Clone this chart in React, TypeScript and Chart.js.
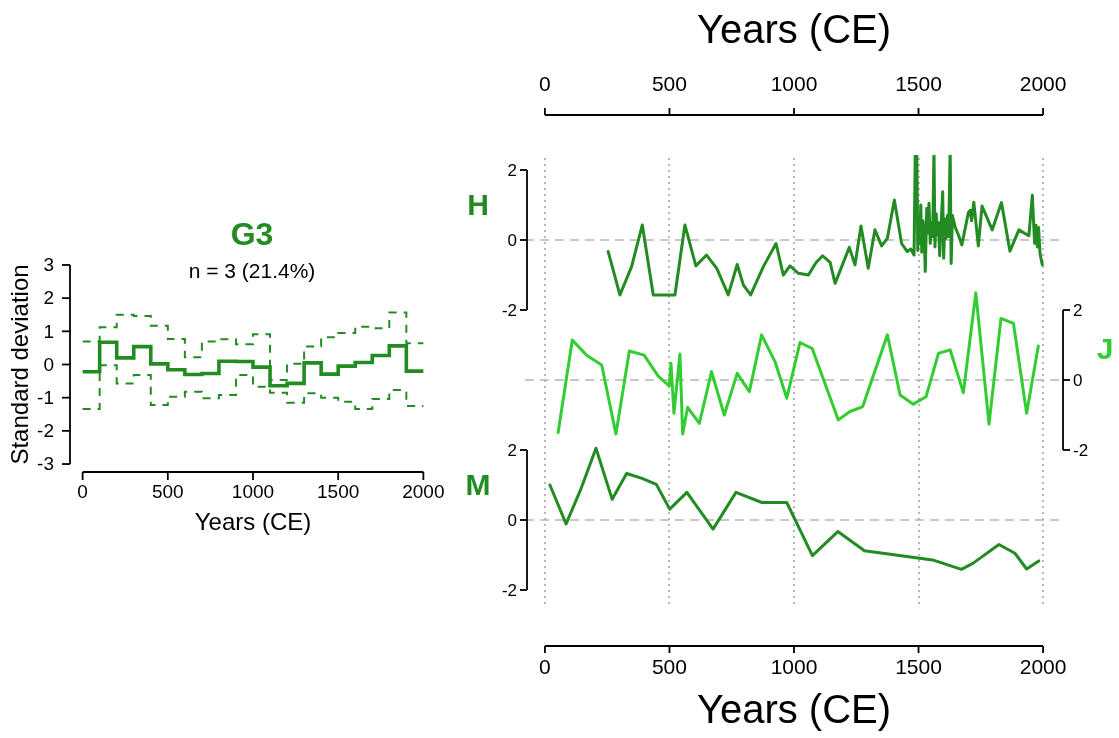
import React, { useEffect, useRef } from "react";
import { Chart, registerables } from "chart.js";

Chart.register(...registerables);

const W = 1119;
const H = 738;
const FONT = '"Liberation Sans", Arial, Helvetica, sans-serif';
const GREEN = "#228B22";
const LIME = "#32CD32";

// ---- G3 composite (100-year bins, standard deviation units) ----
const binStarts = [0, 100, 200, 300, 400, 500, 600, 700, 800, 900, 1000, 1100, 1200, 1300, 1400, 1500, 1600, 1700, 1800, 1900];
const g3Mean = [-0.22, 0.67, 0.2, 0.54, 0.02, -0.16, -0.3, -0.27, 0.1, 0.09, -0.08, -0.64, -0.57, 0.05, -0.29, -0.05, 0.06, 0.27, 0.56, -0.2];
const g3Upper = [0.69, 1.12, 1.5, 1.46, 1.17, 0.77, 0.22, 0.69, 0.76, 0.61, 0.91, -0.47, 0.02, 0.54, 0.82, 0.95, 1.14, 1.09, 1.57, 0.64];
const g3Lower = [-1.34, -0.02, -0.57, -0.32, -1.22, -0.97, -0.82, -1.02, -0.92, -0.32, -0.67, -0.85, -1.15, -0.87, -1.0, -1.12, -1.34, -1.04, -0.77, -1.25];
const binEnd = 2000;

// ---- Record H ----
const hYears = [254, 301, 348, 391, 435, 522, 562, 606, 649, 690, 736, 772, 797, 826, 877, 928, 957, 984, 1017, 1058, 1088, 1115, 1145, 1165, 1222, 1245, 1269, 1298, 1325, 1352, 1375, 1403, 1432, 1455, 1469, 1482, 1487, 1493, 1497, 1501, 1505, 1509, 1513, 1518, 1523, 1527, 1533, 1537, 1542, 1547, 1552, 1557, 1562, 1566, 1571, 1575, 1580, 1585, 1590, 1597, 1601, 1606, 1611, 1616, 1621, 1627, 1631, 1636, 1648, 1660, 1674, 1700, 1707, 1713, 1722, 1740, 1755, 1796, 1833, 1867, 1903, 1943, 1957, 1966, 1972, 1977, 1982, 1988, 1997];
const hValues = [-0.33, -1.57, -0.76, 0.43, -1.57, -1.57, 0.43, -0.74, -0.43, -0.81, -1.57, -0.7, -1.29, -1.57, -0.76, -0.1, -1.0, -0.74, -0.95, -1.0, -0.65, -0.45, -0.64, -1.24, -0.21, -0.71, 0.4, -0.81, 0.29, -0.17, 0.05, 1.14, -0.1, -0.33, -0.26, -0.43, 2.6, 2.6, -0.3, 0.6, -0.1, 1.0, -0.35, 0.55, 0.1, -0.9, 0.9, 0.2, 1.05, -0.1, 0.5, 0.1, 2.6, -0.2, 0.75, 0.15, 0.5, -0.45, 0.35, 1.38, -0.52, 0.6, 0.05, 0.7, 0.1, 2.6, -0.67, 0.7, 0.35, 0.15, -0.14, 0.78, 0.85, 0.55, 1.08, -0.17, 0.97, 0.29, 1.07, -0.32, 0.29, 0.12, 1.28, -0.1, 0.42, -0.2, 0.36, -0.4, -0.71];

// ---- Record J ----
const jYears = [53, 110, 167, 228, 285, 339, 398, 455, 499, 506, 518, 542, 553, 573, 620, 669, 720, 772, 821, 870, 924, 971, 1024, 1073, 1178, 1225, 1276, 1375, 1426, 1479, 1530, 1580, 1627, 1680, 1730, 1783, 1831, 1881, 1934, 1981];
const jValues = [-1.5, 1.14, 0.71, 0.43, -1.54, 0.83, 0.71, 0.11, -0.17, 0.48, -0.95, 0.74, -1.54, -0.78, -1.24, 0.24, -1.0, 0.19, -0.33, 1.29, 0.52, -0.52, 1.07, 0.9, -1.14, -0.9, -0.76, 1.29, -0.43, -0.69, -0.48, 0.76, 0.86, -0.36, 2.49, -1.26, 1.76, 1.62, -0.95, 0.97];

// ---- Record M ----
const mYears = [20, 85, 143, 205, 270, 328, 390, 447, 501, 570, 675, 767, 871, 971, 1074, 1176, 1283, 1556, 1672, 1718, 1823, 1887, 1934, 1983];
const mValues = [1.0, -0.11, 0.86, 2.05, 0.59, 1.33, 1.19, 1.02, 0.31, 0.79, -0.26, 0.79, 0.5, 0.5, -1.02, -0.33, -0.88, -1.14, -1.41, -1.24, -0.7, -0.95, -1.4, -1.17];

// ---- Axis ticks and labels ----
const yearTicks = [0, 500, 1000, 1500, 2000];
const sdTicks = [-3, -2, -1, 0, 1, 2, 3];
const recordTicks = [-2, 0, 2];
const yearTitle = "Years (CE)";
const sdTitle = "Standard deviation";
const groupName = "G3";
const groupCount = "n = 3 (21.4%)";
const recordNames = ["H", "J", "M"];

const toPoints = (xs: number[], ys: number[]) => xs.map((x, i) => ({ x, y: ys[i] }));
const toSteps = (ys: number[]) =>
  binStarts.map((x, i) => ({ x, y: ys[i] })).concat([{ x: binEnd, y: ys[ys.length - 1] }]);

function seg(ctx: CanvasRenderingContext2D, x1: number, y1: number, x2: number, y2: number) {
  ctx.beginPath();
  ctx.moveTo(x1, y1);
  ctx.lineTo(x2, y2);
  ctx.stroke();
}

const leftDecor = {
  id: "leftDecor",
  afterDraw(chart: any) {
    const { ctx, chartArea: a, scales } = chart;
    const xs = scales.x;
    const ys = scales.y;
    ctx.save();
    ctx.strokeStyle = "#000";
    ctx.fillStyle = "#000";
    ctx.lineWidth = 1.8;
    ctx.setLineDash([]);
    // y axis
    const ax = a.left + 1;
    seg(ctx, ax, ys.getPixelForValue(sdTicks[0]), ax, ys.getPixelForValue(sdTicks[sdTicks.length - 1]));
    ctx.font = `19px ${FONT}`;
    ctx.textAlign = "right";
    ctx.textBaseline = "middle";
    for (const t of sdTicks) {
      const py = ys.getPixelForValue(t);
      seg(ctx, ax - 8, py, ax, py);
      ctx.fillText(String(t), ax - 16, py + 1);
    }
    // x axis
    const ay = a.bottom;
    seg(ctx, xs.getPixelForValue(yearTicks[0]), ay, xs.getPixelForValue(yearTicks[yearTicks.length - 1]), ay);
    ctx.textAlign = "center";
    for (const t of yearTicks) {
      const px = xs.getPixelForValue(t);
      seg(ctx, px, ay, px, ay + 8);
      ctx.fillText(String(t), px, ay + 21);
    }
    const cx = (xs.getPixelForValue(0) + xs.getPixelForValue(2000)) / 2;
    ctx.font = `24px ${FONT}`;
    ctx.fillText(yearTitle, cx, ay + 51);
    ctx.save();
    ctx.translate(21, ys.getPixelForValue(0));
    ctx.rotate(-Math.PI / 2);
    ctx.fillText(sdTitle, 0, 0);
    ctx.restore();
    // group title
    ctx.font = `21px ${FONT}`;
    ctx.fillText(groupCount, cx - 1, a.top + 15);
    ctx.font = `bold 32px ${FONT}`;
    ctx.fillStyle = GREEN;
    ctx.fillText(groupName, cx - 1, a.top - 21);
    ctx.restore();
  },
};

const rightDecor = {
  id: "rightDecor",
  beforeDatasetsDraw(chart: any) {
    const { ctx, chartArea: a, scales } = chart;
    ctx.save();
    ctx.strokeStyle = "#a6a6a6";
    ctx.lineWidth = 1.6;
    ctx.setLineDash([2, 4]);
    for (const t of yearTicks) {
      const px = Math.round(scales.x.getPixelForValue(t));
      seg(ctx, px, a.top + 3, px, a.bottom);
    }
    ctx.strokeStyle = "#b5b5b5";
    ctx.lineWidth = 1.6;
    ctx.setLineDash([9, 6]);
    for (const id of ["yH", "yJ", "yM"]) {
      const py = scales[id].getPixelForValue(0);
      seg(ctx, a.left, py, id === "yJ" ? a.right + 3 : a.right, py);
    }
    ctx.restore();
  },
  afterDraw(chart: any) {
    const { ctx, chartArea: a, scales } = chart;
    const xs = scales.x;
    ctx.save();
    ctx.strokeStyle = "#000";
    ctx.fillStyle = "#000";
    ctx.lineWidth = 1.8;
    ctx.setLineDash([]);
    ctx.textBaseline = "middle";

    // bracket axes for each record
    const bracket = (id: string, x: number, dir: number) => {
      const s = scales[id];
      seg(ctx, x, s.getPixelForValue(recordTicks[0]), x, s.getPixelForValue(recordTicks[recordTicks.length - 1]));
      ctx.font = `17px ${FONT}`;
      ctx.textAlign = dir < 0 ? "right" : "left";
      for (const t of recordTicks) {
        const py = s.getPixelForValue(t);
        seg(ctx, x, py, x + dir * 7, py);
        ctx.fillText(String(t), x + dir * 10, py + 1);
      }
    };
    bracket("yH", a.left + 2, -1);
    bracket("yJ", a.right + 3, 1);
    bracket("yM", a.left + 2, -1);

    // record letters
    ctx.font = `bold 30px ${FONT}`;
    ctx.textAlign = "center";
    ctx.fillStyle = GREEN;
    ctx.fillText(recordNames[0], a.left - 47, scales.yH.getPixelForValue(0.95));
    ctx.fillStyle = LIME;
    ctx.fillText(recordNames[1], a.right + 45, scales.yJ.getPixelForValue(0.85));
    ctx.fillStyle = GREEN;
    ctx.fillText(recordNames[2], a.left - 47, scales.yM.getPixelForValue(0.95));

    // top and bottom year axes
    ctx.fillStyle = "#000";
    const x0 = xs.getPixelForValue(yearTicks[0]);
    const x1 = xs.getPixelForValue(yearTicks[yearTicks.length - 1]);
    const cx = (x0 + x1) / 2;
    const topY = a.top - 40;
    const botY = a.bottom + 39;
    seg(ctx, x0, topY, x1, topY);
    seg(ctx, x0, botY, x1, botY);
    ctx.font = `21px ${FONT}`;
    for (const t of yearTicks) {
      const px = xs.getPixelForValue(t);
      seg(ctx, px, topY - 7, px, topY);
      seg(ctx, px, botY, px, botY + 7);
      ctx.fillText(String(t), px, topY - 30);
      ctx.fillText(String(t), px, botY + 22);
    }
    ctx.font = `40px ${FONT}`;
    ctx.fillText(yearTitle, cx, topY - 83);
    ctx.fillText(yearTitle, cx, botY + 66);
    ctx.restore();
  },
};

export default function App() {
  const leftRef = useRef<HTMLCanvasElement>(null);
  const rightRef = useRef<HTMLCanvasElement>(null);

  useEffect(() => {
    // horizontal run across each bin, then the jump to the next bin
    const stepLine = { stepped: "before", pointRadius: 0, borderColor: GREEN, borderJoinStyle: "miter" };
    const left = new Chart(leftRef.current as HTMLCanvasElement, {
      type: "line",
      data: {
        datasets: [
          { data: toSteps(g3Upper), ...stepLine, borderWidth: 2, borderDash: [8, 7] },
          { data: toSteps(g3Lower), ...stepLine, borderWidth: 2, borderDash: [8, 7] },
          { data: toSteps(g3Mean), ...stepLine, borderWidth: 3.6 },
        ],
      },
      options: {
        responsive: false,
        animation: false,
        devicePixelRatio: 1,
        events: [],
        layout: { padding: { left: 69, right: W - 437, top: 257, bottom: H - 472 } },
        plugins: { legend: { display: false }, tooltip: { enabled: false } },
        scales: {
          x: { type: "linear", display: false, min: -80, max: 2080 },
          y: { type: "linear", display: false, min: -3.24, max: 3.24 },
        },
      },
      plugins: [leftDecor],
    } as any);

    const pxPerUnit = 35;
    const top = 155;
    const bottom = 607;
    const span = (bottom - top) / pxPerUnit;
    const range = (zeroPx: number) => {
      const max = (zeroPx - top) / pxPerUnit;
      return { min: max - span, max };
    };
    const line = (color: string) => ({
      borderColor: color,
      borderWidth: 3,
      pointRadius: 0,
      tension: 0,
      borderJoinStyle: "round",
      borderCapStyle: "round",
    });

    const right = new Chart(rightRef.current as HTMLCanvasElement, {
      type: "line",
      data: {
        datasets: [
          { data: toPoints(mYears, mValues), yAxisID: "yM", ...line(GREEN) },
          { data: toPoints(jYears, jValues), yAxisID: "yJ", ...line(LIME) },
          { data: toPoints(hYears, hValues), yAxisID: "yH", ...line(GREEN) },
        ],
      },
      options: {
        responsive: false,
        animation: false,
        devicePixelRatio: 1,
        events: [],
        layout: { padding: { left: 525, right: W - 1060, top, bottom: H - bottom } },
        plugins: { legend: { display: false }, tooltip: { enabled: false } },
        scales: {
          x: { type: "linear", display: false, min: -80, max: 2068 },
          yH: { type: "linear", display: false, ...range(240) },
          yJ: { type: "linear", display: false, ...range(380) },
          yM: { type: "linear", display: false, ...range(520) },
        },
      },
      plugins: [rightDecor],
    } as any);

    return () => {
      left.destroy();
      right.destroy();
    };
  }, []);

  const canvasStyle: React.CSSProperties = { position: "absolute", left: 0, top: 0, width: W, height: H };
  return (
    <div style={{ position: "fixed", left: 0, top: 0, width: W, height: H, background: "#fff", overflow: "hidden" }}>
      <canvas ref={leftRef} width={W} height={H} style={canvasStyle} />
      <canvas ref={rightRef} width={W} height={H} style={canvasStyle} />
    </div>
  );
}
